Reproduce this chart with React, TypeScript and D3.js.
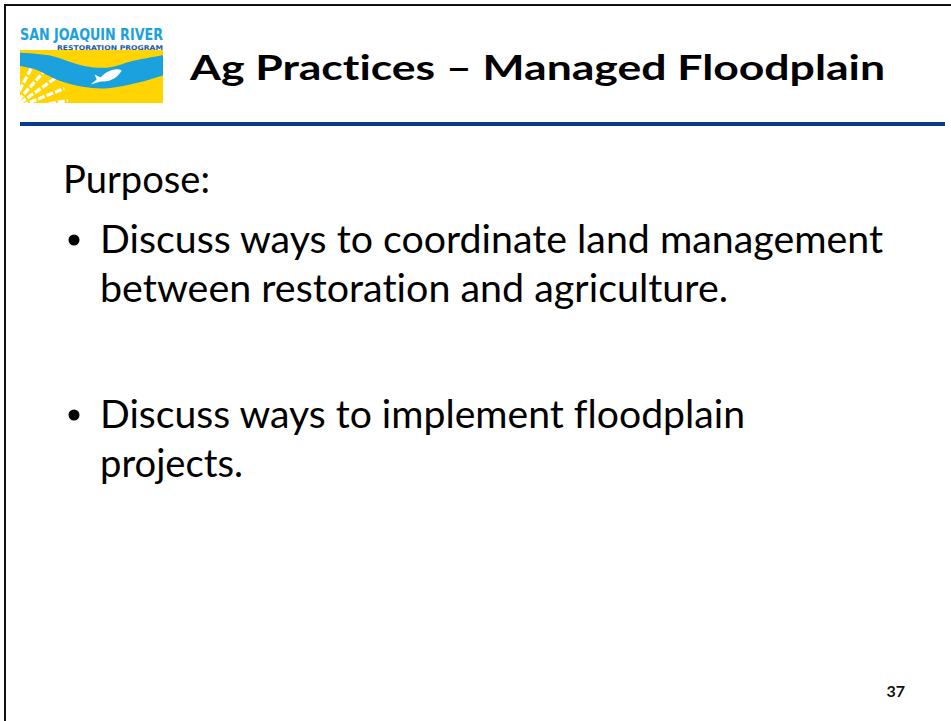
import * as d3 from "d3";
import { useEffect, useRef } from "react";

// slide text
const titleText = "Ag Practices – Managed Floodplain";
const paragraphLevels = [0, 1, 1];
const paragraphLines = [
  ["Purpose:"],
  ["Discuss ways to coordinate land management", "between restoration and agriculture."],
  ["Discuss ways to implement floodplain", "projects."],
];
const slideNumber = "37";
const logoTitle = "SAN JOAQUIN RIVER";
const logoSubtitle = "RESTORATION PROGRAM";

// river band edges in logo units (0..1 across, 0..1 down the yellow box)
const riverTop = [[0, 0.05], [0.2, 0.1], [0.45, 0.3], [0.62, 0.33], [0.8, 0.2], [1, 0.1]];
const riverBottom = [[1, 0.48], [0.82, 0.62], [0.62, 0.72], [0.45, 0.7], [0.25, 0.55], [0.1, 0.36], [0, 0.3]];
const furrowAngles = [-62, -48, -35, -22, -10];

const App = () => {
  const svgRef = useRef<SVGSVGElement>(null);

  const renderSVG = () => {
    const dims = {
      width: 951,
      height: 721,
      font: "Lato, 'Open Sans', sans-serif",
      title: { x: 190, y: 80, width: 695, size: 35 },
      rule: { x0: 20, x1: 945, y: 124, h: 4 },
      body: { top: 193, lineHeight: 49, gaps: [0, 11, 77], size: 38, x: [63, 100], bulletX: 74 },
      logo: { x: 20, y: 50, w: 143, h: 53 },
    };
    // measured right edges of every body line, in reading order
    const lineRight = [210, 883, 728, 745, 243];

    const root = d3.select(svgRef.current);
    root.selectAll("*").remove();
    const svg = root
      .attr("width", dims.width)
      .attr("height", dims.height)
      .attr("viewBox", [0, 0, dims.width, dims.height].join(" "))
      .style("font-variant-ligatures", "none");

    svg.append("rect").attr("width", dims.width).attr("height", dims.height).attr("fill", "white");

    // slide frame (top + left edges visible)
    svg.append("path")
      .attr("d", `M5,${dims.height} L5,5 L${dims.width},5`)
      .attr("fill", "none")
      .attr("stroke", "#111")
      .attr("stroke-width", 2);

    // logo
    const lg = dims.logo;
    const lx = d3.scaleLinear([0, 1], [lg.x, lg.x + lg.w]);
    const ly = d3.scaleLinear([0, 1], [lg.y, lg.y + lg.h]);
    const logo = svg.append("g");
    logo.append("defs").append("clipPath").attr("id", "logoClip")
      .append("rect").attr("x", lg.x).attr("y", lg.y).attr("width", lg.w).attr("height", lg.h);

    logo.append("text")
      .attr("x", lg.x).attr("y", 40)
      .attr("font-family", "'DejaVu Sans Condensed', 'Liberation Sans Narrow', sans-serif")
      .attr("font-weight", "bold")
      .attr("font-size", 15)
      .attr("fill", "#1ba1dd")
      .attr("textLength", lg.w)
      .attr("lengthAdjust", "spacingAndGlyphs")
      .text(logoTitle);
    logo.append("text")
      .attr("x", lg.x + 37).attr("y", 50)
      .attr("font-family", "'DejaVu Sans Condensed', sans-serif")
      .attr("font-weight", "bold")
      .attr("font-size", 6.5)
      .attr("fill", "#1c5aa6")
      .attr("textLength", lg.w - 37)
      .attr("lengthAdjust", "spacingAndGlyphs")
      .text(logoSubtitle);

    const art = logo.append("g").attr("clip-path", "url(#logoClip)");
    art.append("rect").attr("x", lg.x).attr("y", lg.y).attr("width", lg.w).attr("height", lg.h).attr("fill", "#ffd400");

    // furrows
    const fOrigin = [lx(-0.08), ly(1.15)];
    art.selectAll("line.furrow")
      .data(furrowAngles)
      .enter()
      .append("line")
      .attr("x1", (d) => fOrigin[0] + 14 * Math.cos((d * Math.PI) / 180))
      .attr("y1", (d) => fOrigin[1] + 14 * Math.sin((d * Math.PI) / 180))
      .attr("x2", (d) => fOrigin[0] + 60 * Math.cos((d * Math.PI) / 180))
      .attr("y2", (d) => fOrigin[1] + 60 * Math.sin((d * Math.PI) / 180))
      .attr("stroke", "white")
      .attr("stroke-width", 3.2)
      .attr("stroke-dasharray", "7 2");

    const edge = d3.line<number[]>().x((d) => lx(d[0])).y((d) => ly(d[1])).curve(d3.curveCatmullRom);
    const topPath = edge(riverTop) || "";
    const botPath = (edge(riverBottom) || "").replace(/^M/, "L");
    art.append("path").attr("d", topPath + botPath + "Z").attr("fill", "#1ba1dd");

    // fish
    const fx = lx(0.62), fy = ly(0.5);
    art.append("path")
      .attr("d", `M${fx - 18},${fy + 8} L${fx - 12},${fy + 3} L${fx - 14},${fy - 2} L${fx - 8},${fy + 1}
        C${fx - 2},${fy - 6} ${fx + 8},${fy - 9} ${fx + 13},${fy - 6}
        C${fx + 10},${fy} ${fx + 2},${fy + 6} ${fx - 8},${fy + 5} Z`)
      .attr("fill", "white");

    // title + rule
    svg.append("text")
      .attr("x", dims.title.x)
      .attr("y", dims.title.y)
      .attr("font-family", dims.font)
      .attr("font-weight", "bold")
      .attr("font-size", dims.title.size)
      .attr("fill", "#000")
      .attr("textLength", dims.title.width)
      .attr("lengthAdjust", "spacingAndGlyphs")
      .text(titleText);

    svg.append("rect")
      .attr("x", dims.rule.x0)
      .attr("y", dims.rule.y - dims.rule.h / 2)
      .attr("width", dims.rule.x1 - dims.rule.x0)
      .attr("height", dims.rule.h)
      .attr("fill", "#0b3a8c");

    // body
    const lines: { text: string; level: number; first: boolean; y: number }[] = [];
    let y = dims.body.top - dims.body.lineHeight;
    paragraphLines.forEach((pl, pi) => {
      y += dims.body.gaps[pi];
      pl.forEach((t, li) => {
        y += dims.body.lineHeight;
        lines.push({ text: t, level: paragraphLevels[pi], first: li === 0, y });
      });
    });

    const body = svg.append("g");
    body.selectAll("text")
      .data(lines)
      .enter()
      .append("text")
      .attr("x", (d) => dims.body.x[d.level])
      .attr("y", (d) => d.y)
      .attr("font-family", dims.font)
      .attr("font-size", dims.body.size)
      .attr("fill", "#000")
      .attr("textLength", (d, i) => lineRight[i] - dims.body.x[d.level])
      .attr("lengthAdjust", "spacingAndGlyphs")
      .text((d) => d.text);

    body.selectAll("circle")
      .data(lines.filter((d) => d.level === 1 && d.first))
      .enter()
      .append("circle")
      .attr("cx", dims.body.bulletX)
      .attr("cy", (d) => d.y - 13)
      .attr("r", 5.5)
      .attr("fill", "#000");

    svg.append("text")
      .attr("x", 905)
      .attr("y", 697)
      .attr("text-anchor", "end")
      .attr("font-family", dims.font)
      .attr("font-weight", "bold")
      .attr("font-size", 16)
      .attr("fill", "#111")
      .text(slideNumber);
  };

  useEffect(() => {
    renderSVG();
  });

  return <svg ref={svgRef} style={{ position: "absolute", left: 0, top: 0 }} />;
};

export default App;
